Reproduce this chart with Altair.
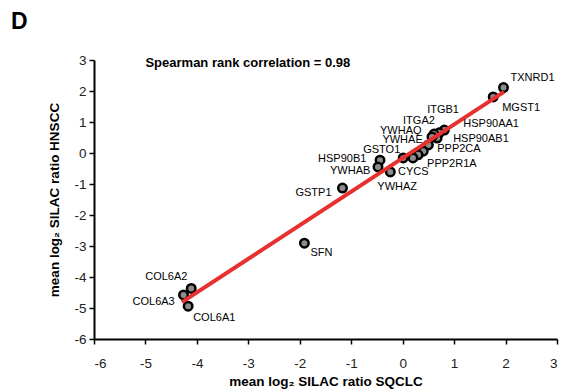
import altair as alt
import pandas as pd

genes = ["TXNRD1", "MGST1", "HSP90AA1", "ITGB1", "HSP90AB1", "ITGA2", "YWHAQ",
         "YWHAE", "PPP2CA", "PPP2R1A", "CYCS", "GSTO1", "HSP90B1", "YWHAB",
         "YWHAZ", "GSTP1", "SFN", "COL6A2", "COL6A3", "COL6A1"]
sqclc = [1.96, 1.76, 0.81, 0.71, 0.67, 0.61, 0.57,
         0.50, 0.40, 0.30, 0.20, 0.01, -0.44, -0.48,
         -0.24, -1.17, -1.91, -4.11, -4.26, -4.17]
hnscc = [2.11, 1.81, 0.74, 0.65, 0.48, 0.61, 0.52,
         0.26, 0.06, -0.06, -0.16, -0.16, -0.23, -0.45,
         -0.61, -1.13, -2.91, -4.37, -4.58, -4.94]
# label offsets from each point, in pixels (left edge, vertical middle)
label_dx = [7, 9, 19, -12, 16, -31, -52, -46, 14, 9, -15, -40, -62, -48, -13, -47, 6, -46, -51, 5]
label_dy = [-10, 11, -6, -23, 1, -13, -6, -5, -2, 9, 14, -8, -1, 4, 15, 5, 10, -11, 7, 12]

fit_x = [-4.29, 1.97]
fit_y = [-4.81, 1.97]

note_text = ["Spearman rank correlation = 0.98"]
note_x = [-5.0]
note_y = [2.9]

ticks = [-6, -5, -4, -3, -2, -1, 0, 1, 2, 3]

W, H = 463, 279
df = pd.DataFrame(dict(gene=genes, x=sqclc, y=hnscc, dx=label_dx, dy=label_dy))
fit = pd.DataFrame(dict(x=fit_x, y=fit_y))
note = pd.DataFrame(dict(t=note_text, x=note_x, y=note_y))

FONT = "Liberation Sans"
xs = alt.Scale(domain=[-6, 3], nice=False, zero=False)
ys = alt.Scale(domain=[-6, 3], nice=False, zero=False)

label_expr = "datum.value < 0 ? '-' + abs(datum.value) : '' + datum.value"
common_axis = dict(values=ticks, grid=False, domainColor="black", domainWidth=2,
                   tickColor="black", tickWidth=1.5, tickSize=5,
                   labelFontSize=13.5, labelColor="#222222", labelFont=FONT,
                   labelOverlap=False, labelExpr=label_expr, tickCount=10,
                   titleFontSize=13.5, titleFontWeight="bold", titleFont=FONT,
                   titleColor="black")

xaxis = alt.Axis(title="mean log₂ SILAC ratio SQCLC", labelPadding=12, titlePadding=5,
                 **common_axis)
yaxis = alt.Axis(title="mean log₂ SILAC ratio HNSCC", labelPadding=3, titlePadding=12,
                 **common_axis)

points = alt.Chart(df).mark_circle(
    fill="#8c8c8c", stroke="black", strokeWidth=2.5, size=72, opacity=1
).encode(x=alt.X("x:Q", scale=xs, axis=xaxis), y=alt.Y("y:Q", scale=ys, axis=yaxis))

line = alt.Chart(fit).mark_line(color="#e8302f", strokeWidth=4).encode(
    x=alt.X("x:Q", scale=xs, axis=xaxis), y=alt.Y("y:Q", scale=ys, axis=yaxis))

labels = alt.Chart(df).transform_calculate(
    lx=f"datum.x + datum.dx * 9 / {W}",
    ly=f"datum.y - datum.dy * 9 / {H}",
).mark_text(
    align="left", baseline="middle", fontSize=11, font=FONT, color="black"
).encode(
    x=alt.X("lx:Q", scale=xs, axis=xaxis), y=alt.Y("ly:Q", scale=ys, axis=yaxis),
    text="gene:N")

note_layer = alt.Chart(note).mark_text(
    align="left", baseline="middle", fontSize=13, fontWeight="bold", font=FONT, color="black"
).encode(x=alt.X("x:Q", scale=xs, axis=xaxis), y=alt.Y("y:Q", scale=ys, axis=yaxis),
         text="t:N")

chart = alt.layer(points, line, labels, note_layer).properties(
    width=W, height=H,
    title=alt.TitleParams("D", anchor="start", frame="group", fontSize=23,
                          fontWeight="bold", font=FONT, dx=-83, dy=24, offset=25,
                          baseline="alphabetic", color="black"),
    autosize=alt.AutoSizeParams(type="none"),
    padding={"left": 86, "top": 52, "right": 10, "bottom": 50},
).configure_view(stroke=None)

chart.save("out.html", embed_options={"renderer": "svg", "actions": False})
